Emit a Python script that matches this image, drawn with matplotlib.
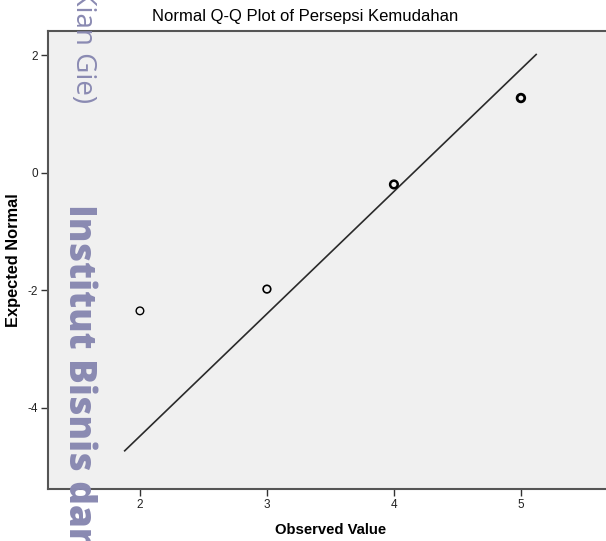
import matplotlib
matplotlib.use("Agg")
import matplotlib.pyplot as plt

# Data
observed = [2, 3, 4, 5]
expected_normal = [-2.35, -1.98, -0.20, 1.27]
point_weight = [1.0, 1.2, 1.8, 2.0]   # overlapping points look darker
line_x = [1.88, 5.12]
line_y = [-4.73, 2.01]
xticks = [2, 3, 4, 5]
yticks = [-4, -2, 0, 2]

title = "Normal Q-Q Plot of Persepsi Kemudahan"
xlabel = "Observed Value"
ylabel = "Expected Normal"

W, H = 606, 541
fig = plt.figure(figsize=(W / 100, H / 100), dpi=100)
fig.patch.set_facecolor("white")

left, top, bottom, right = 48, 31, 489, 606
ax = fig.add_axes([left / W, 1 - bottom / H, (right - left) / W, (bottom - top) / H])
ax.set_facecolor("#f0f0f0")

ax.plot(line_x, line_y, color="#2a2a2a", lw=1.2, zorder=2)
ax.scatter(observed, expected_normal, s=30, facecolors="none",
           edgecolors="black", linewidths=point_weight, zorder=3)

ax.set_xlim(1.276, 5.67)
ax.set_ylim(-5.38, 2.41)
ax.set_xticks(xticks)
ax.set_xticklabels([str(v) for v in xticks])
ax.set_yticks(yticks)
ax.set_yticklabels([str(v) for v in yticks])

for s in ["left", "bottom", "top"]:
    ax.spines[s].set_color("#555555")
    ax.spines[s].set_linewidth(1.5)
ax.spines["right"].set_visible(False)
ax.tick_params(direction="out", length=5, width=1, color="#333333",
               labelsize=8.5, labelcolor="#222222", pad=2)
for lab in ax.get_xticklabels() + ax.get_yticklabels():
    lab.set_fontfamily("Liberation Sans")

fig.text(305 / W, 1 - 17 / H, title, ha="center", va="center",
         fontsize=12, family="Liberation Sans", color="black")
fig.text(331 / W, 1 - 530 / H, xlabel, ha="center", va="center",
         fontsize=10.7, fontweight="bold", family="Liberation Sans")
fig.text(14 / W, 1 - 260 / H, ylabel, ha="center", va="center",
         rotation=90, fontsize=11.8, fontweight="bold", family="Liberation Sans")

# Watermark
wm = "#8a8ab2"
fig.text(78 / W, 1 - 204 / H, "Institut Bisnis dan", ha="center", va="top",
         rotation=-90, fontsize=26.5, fontweight=800, color=wm,
         family="Open Sans", zorder=10)
fig.text(83 / W, 1 - 103 / H, "(Kwik Kian Gie)", ha="center", va="bottom",
         rotation=-90, fontsize=20, fontweight=500, color=wm,
         family="Open Sans", zorder=10)

fig.savefig("out.png", dpi=100)
